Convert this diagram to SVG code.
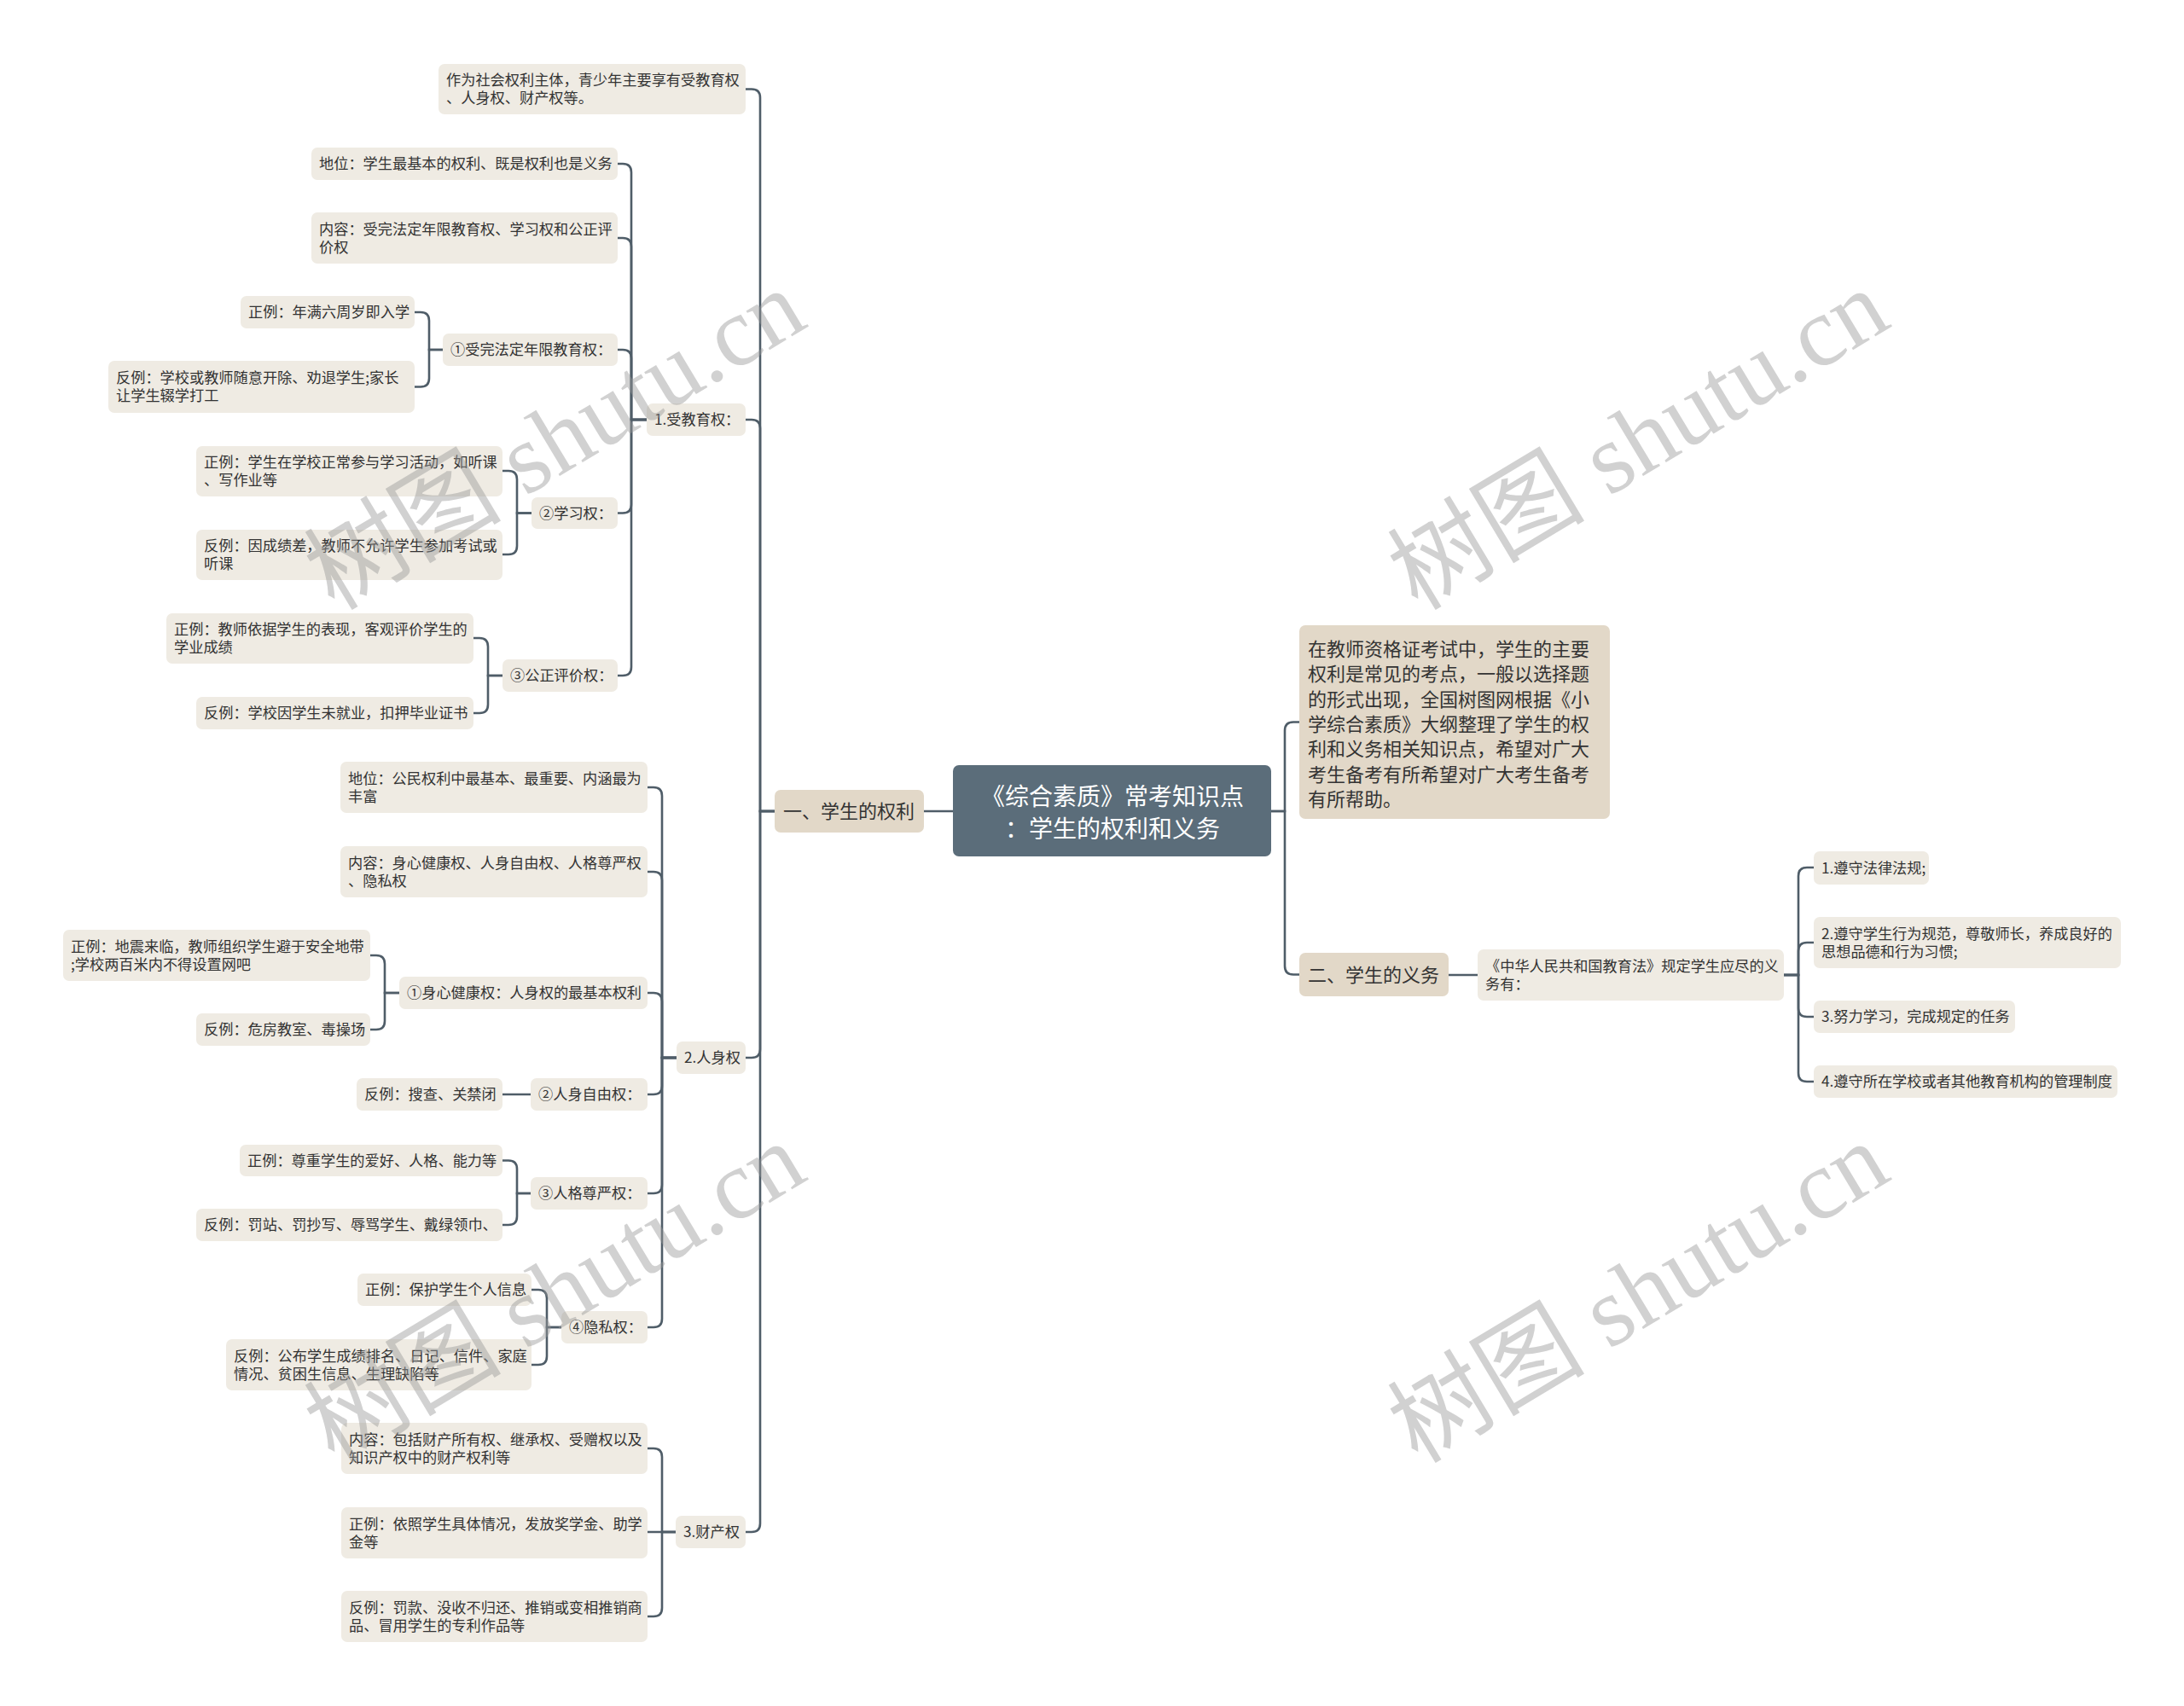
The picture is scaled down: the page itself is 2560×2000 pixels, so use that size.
<svg xmlns="http://www.w3.org/2000/svg" width="2560" height="2000" viewBox="0 0 2560 2000">
<style>
text{font-family:"Noto Sans CJK SC","Noto Sans",sans-serif;fill:#333;}
.n{fill:#efebe3;}
.l1{fill:#e2d8c8;}
.t{font-size:17.2px;}
.t2{font-size:22px;}
.tc{font-size:28px;fill:#fff;}
.c{fill:none;stroke:#4f5d68;stroke-width:2.6;}
.wm{font-family:"Liberation Serif","Noto Sans CJK SC",serif;font-size:116px;fill:#9a9a9a;opacity:0.45;}
</style>
<rect width="2560" height="2000" fill="#ffffff"/>
<g id="connectors">
<path class="c" d="M1117,951 H1083"/>
<path class="c" d="M908,951 H891 V114.5 Q891,104.5 881,104.5 H874"/>
<path class="c" d="M908,951 H891 V502 Q891,492 881,492 H874"/>
<path class="c" d="M908,951 H891 V1230 Q891,1240 881,1240 H874"/>
<path class="c" d="M908,951 H891 V1786 Q891,1796 881,1796 H874"/>
<path class="c" d="M758,492 H740 V202 Q740,192 730,192 H724"/>
<path class="c" d="M758,492 H740 V289 Q740,279 730,279 H724"/>
<path class="c" d="M758,492 H740 V420 Q740,410 730,410 H724"/>
<path class="c" d="M758,492 H740 V591.5 Q740,601.5 730,601.5 H724"/>
<path class="c" d="M758,492 H740 V782 Q740,792 730,792 H724"/>
<path class="c" d="M519,410 H503 V376 Q503,366 493,366 H486"/>
<path class="c" d="M519,410 H503 V443.5 Q503,453.5 493,453.5 H486"/>
<path class="c" d="M623,601.5 H606 V562 Q606,552 596,552 H589"/>
<path class="c" d="M623,601.5 H606 V640 Q606,650 596,650 H589"/>
<path class="c" d="M589,792 H572 V758 Q572,748 562,748 H555"/>
<path class="c" d="M589,792 H572 V826 Q572,836 562,836 H555"/>
<path class="c" d="M793,1240 H776 V933 Q776,923 766,923 H759"/>
<path class="c" d="M793,1240 H776 V1032 Q776,1022 766,1022 H759"/>
<path class="c" d="M793,1240 H776 V1174 Q776,1164 766,1164 H759"/>
<path class="c" d="M793,1240 H776 V1273 Q776,1283 766,1283 H759"/>
<path class="c" d="M793,1240 H776 V1389 Q776,1399 766,1399 H759"/>
<path class="c" d="M793,1240 H776 V1546 Q776,1556 766,1556 H759"/>
<path class="c" d="M468,1164 H451 V1130 Q451,1120 441,1120 H434"/>
<path class="c" d="M468,1164 H451 V1197 Q451,1207 441,1207 H434"/>
<path class="c" d="M622,1283 H589"/>
<path class="c" d="M622,1399 H606 V1370.5 Q606,1360.5 596,1360.5 H589"/>
<path class="c" d="M622,1399 H606 V1426 Q606,1436 596,1436 H589"/>
<path class="c" d="M658,1556 H641 V1522 Q641,1512 631,1512 H623"/>
<path class="c" d="M658,1556 H641 V1590 Q641,1600 631,1600 H623"/>
<path class="c" d="M792,1796 H776 V1708 Q776,1698 766,1698 H759"/>
<path class="c" d="M792,1796 H759"/>
<path class="c" d="M792,1796 H776 V1885 Q776,1895 766,1895 H759"/>
<path class="c" d="M1490,951 H1506 V856.5 Q1506,846.5 1516,846.5 H1523"/>
<path class="c" d="M1490,951 H1506 V1132.5 Q1506,1142.5 1516,1142.5 H1523"/>
<path class="c" d="M1698,1143 H1732"/>
<path class="c" d="M2091,1143 H2108 V1027 Q2108,1017 2118,1017 H2126"/>
<path class="c" d="M2091,1143 H2108 V1115 Q2108,1105 2118,1105 H2126"/>
<path class="c" d="M2091,1143 H2108 V1182 Q2108,1192 2118,1192 H2126"/>
<path class="c" d="M2091,1143 H2108 V1258 Q2108,1268 2118,1268 H2126"/>
</g>
<g id="root"><rect x="1117" y="897" width="373" height="107" rx="7" fill="#5b6d7a"/><text class="tc" text-anchor="middle"><tspan x="1304" y="944">《综合素质》常考知识点</tspan><tspan x="1304" y="982">：学生的权利和义务</tspan></text></g>
<g id="n-rights"><rect class="l1" x="908" y="926" width="175" height="50" rx="7"/><text class="t2" x="918" y="959">一、学生的权利</text></g>
<g id="n-a"><rect class="n" x="514" y="75" width="360" height="59" rx="7"/><text class="t"><tspan x="523" y="100">作为社会权利主体，青少年主要享有受教育权</tspan><tspan x="523" y="121">、人身权、财产权等。</tspan></text></g>
<g id="n-edu"><rect class="n" x="758" y="473" width="116" height="38" rx="7"/><text class="t" x="767" y="498">1.受教育权：</text></g>
<g id="n-edu1"><rect class="n" x="365" y="173" width="359" height="38" rx="7"/><text class="t" x="374" y="198">地位：学生最基本的权利、既是权利也是义务</text></g>
<g id="n-edu2"><rect class="n" x="365" y="249" width="359" height="60" rx="7"/><text class="t"><tspan x="374" y="274.5">内容：受完法定年限教育权、学习权和公正评</tspan><tspan x="374" y="295.5">价权</tspan></text></g>
<g id="n-edu3"><rect class="n" x="519" y="391" width="205" height="38" rx="7"/><text class="t" x="528" y="416">①受完法定年限教育权：</text></g>
<g id="n-edu3a"><rect class="n" x="282" y="347" width="204" height="38" rx="7"/><text class="t" x="291" y="372">正例：年满六周岁即入学</text></g>
<g id="n-edu3b"><rect class="n" x="127" y="423" width="359" height="61" rx="7"/><text class="t"><tspan x="136" y="449">反例：学校或教师随意开除、劝退学生;家长</tspan><tspan x="136" y="470">让学生辍学打工</tspan></text></g>
<g id="n-edu4"><rect class="n" x="623" y="583" width="101" height="37" rx="7"/><text class="t" x="632" y="607.5">②学习权：</text></g>
<g id="n-edu4a"><rect class="n" x="230" y="523" width="359" height="59" rx="7"/><text class="t"><tspan x="239" y="547.5">正例：学生在学校正常参与学习活动，如听课</tspan><tspan x="239" y="568.5">、写作业等</tspan></text></g>
<g id="n-edu4b"><rect class="n" x="230" y="621" width="359" height="59" rx="7"/><text class="t"><tspan x="239" y="645.5">反例：因成绩差，教师不允许学生参加考试或</tspan><tspan x="239" y="666.5">听课</tspan></text></g>
<g id="n-edu5"><rect class="n" x="589" y="773" width="135" height="38" rx="7"/><text class="t" x="598" y="798">③公正评价权：</text></g>
<g id="n-edu5a"><rect class="n" x="195" y="719" width="360" height="59" rx="7"/><text class="t"><tspan x="204" y="743.5">正例：教师依据学生的表现，客观评价学生的</tspan><tspan x="204" y="764.5">学业成绩</tspan></text></g>
<g id="n-edu5b"><rect class="n" x="230" y="817" width="325" height="38" rx="7"/><text class="t" x="239" y="842">反例：学校因学生未就业，扣押毕业证书</text></g>
<g id="n-person"><rect class="n" x="793" y="1221" width="81" height="38" rx="7"/><text class="t" x="802" y="1246">2.人身权</text></g>
<g id="n-p1"><rect class="n" x="399" y="893" width="360" height="60" rx="7"/><text class="t"><tspan x="408" y="918.5">地位：公民权利中最基本、最重要、内涵最为</tspan><tspan x="408" y="939.5">丰富</tspan></text></g>
<g id="n-p2"><rect class="n" x="399" y="992" width="360" height="60" rx="7"/><text class="t"><tspan x="408" y="1017.5">内容：身心健康权、人身自由权、人格尊严权</tspan><tspan x="408" y="1038.5">、隐私权</tspan></text></g>
<g id="n-p3"><rect class="n" x="468" y="1145" width="291" height="38" rx="7"/><text class="t" x="477" y="1170">①身心健康权：人身权的最基本权利</text></g>
<g id="n-p3a"><rect class="n" x="74" y="1090" width="360" height="60" rx="7"/><text class="t"><tspan x="83" y="1115.5">正例：地震来临，教师组织学生避于安全地带</tspan><tspan x="83" y="1136.5">;学校两百米内不得设置网吧</tspan></text></g>
<g id="n-p3b"><rect class="n" x="230" y="1188" width="204" height="38" rx="7"/><text class="t" x="239" y="1213">反例：危房教室、毒操场</text></g>
<g id="n-p4"><rect class="n" x="622" y="1264" width="137" height="38" rx="7"/><text class="t" x="631" y="1289">②人身自由权：</text></g>
<g id="n-p4a"><rect class="n" x="418" y="1264" width="171" height="38" rx="7"/><text class="t" x="427" y="1289">反例：搜查、关禁闭</text></g>
<g id="n-p5"><rect class="n" x="622" y="1380" width="137" height="38" rx="7"/><text class="t" x="631" y="1405">③人格尊严权：</text></g>
<g id="n-p5a"><rect class="n" x="281" y="1342" width="308" height="37" rx="7"/><text class="t" x="290" y="1366.5">正例：尊重学生的爱好、人格、能力等</text></g>
<g id="n-p5b"><rect class="n" x="230" y="1417" width="359" height="38" rx="7"/><text class="t" x="239" y="1442">反例：罚站、罚抄写、辱骂学生、戴绿领巾、</text></g>
<g id="n-p6"><rect class="n" x="658" y="1537" width="101" height="38" rx="7"/><text class="t" x="667" y="1562">④隐私权：</text></g>
<g id="n-p6a"><rect class="n" x="419" y="1493" width="204" height="38" rx="7"/><text class="t" x="428" y="1518">正例：保护学生个人信息</text></g>
<g id="n-p6b"><rect class="n" x="265" y="1570" width="358" height="60" rx="7"/><text class="t"><tspan x="274" y="1595.5">反例：公布学生成绩排名、日记、信件、家庭</tspan><tspan x="274" y="1616.5">情况、贫困生信息、生理缺陷等</tspan></text></g>
<g id="n-prop"><rect class="n" x="792" y="1777" width="82" height="38" rx="7"/><text class="t" x="801" y="1802">3.财产权</text></g>
<g id="n-prop1"><rect class="n" x="400" y="1668" width="359" height="60" rx="7"/><text class="t"><tspan x="409" y="1693.5">内容：包括财产所有权、继承权、受赠权以及</tspan><tspan x="409" y="1714.5">知识产权中的财产权利等</tspan></text></g>
<g id="n-prop2"><rect class="n" x="400" y="1767" width="359" height="60" rx="7"/><text class="t"><tspan x="409" y="1792.5">正例：依照学生具体情况，发放奖学金、助学</tspan><tspan x="409" y="1813.5">金等</tspan></text></g>
<g id="n-prop3"><rect class="n" x="400" y="1865" width="359" height="60" rx="7"/><text class="t"><tspan x="409" y="1890.5">反例：罚款、没收不归还、推销或变相推销商</tspan><tspan x="409" y="1911.5">品、冒用学生的专利作品等</tspan></text></g>
<g id="n-intro"><rect class="l1" x="1523" y="733" width="364" height="227" rx="7"/><text class="t2"><tspan x="1533" y="769">在教师资格证考试中，学生的主要</tspan><tspan x="1533" y="798.3">权利是常见的考点，一般以选择题</tspan><tspan x="1533" y="827.6">的形式出现，全国树图网根据《小</tspan><tspan x="1533" y="856.9">学综合素质》大纲整理了学生的权</tspan><tspan x="1533" y="886.2">利和义务相关知识点，希望对广大</tspan><tspan x="1533" y="915.5">考生备考有所希望对广大考生备考</tspan><tspan x="1533" y="944.8">有所帮助。</tspan></text></g>
<g id="n-duties"><rect class="l1" x="1523" y="1117" width="175" height="51" rx="7"/><text class="t2" x="1533" y="1150.5">二、学生的义务</text></g>
<g id="n-law"><rect class="n" x="1732" y="1113" width="359" height="60" rx="7"/><text class="t"><tspan x="1741" y="1138.5">《中华人民共和国教育法》规定学生应尽的义</tspan><tspan x="1741" y="1159.5">务有：</tspan></text></g>
<g id="n-d1"><rect class="n" x="2126" y="998" width="135" height="39" rx="7"/><text class="t" x="2135" y="1023.5">1.遵守法律法规;</text></g>
<g id="n-d2"><rect class="n" x="2126" y="1075" width="360" height="60" rx="7"/><text class="t"><tspan x="2135" y="1100.5">2.遵守学生行为规范，尊敬师长，养成良好的</tspan><tspan x="2135" y="1121.5">思想品德和行为习惯;</tspan></text></g>
<g id="n-d3"><rect class="n" x="2126" y="1173" width="236" height="38" rx="7"/><text class="t" x="2135" y="1198">3.努力学习，完成规定的任务</text></g>
<g id="n-d4"><rect class="n" x="2126" y="1249" width="356" height="38" rx="7"/><text class="t" x="2135" y="1274">4.遵守所在学校或者其他教育机构的管理制度</text></g>
<g id="watermarks">
<text class="wm" text-anchor="middle" transform="translate(650,515) rotate(-31)" x="0" y="40">树图 shutu.cn</text>
<text class="wm" text-anchor="middle" transform="translate(1920,515) rotate(-31)" x="0" y="40">树图 shutu.cn</text>
<text class="wm" text-anchor="middle" transform="translate(650,1515) rotate(-31)" x="0" y="40">树图 shutu.cn</text>
<text class="wm" text-anchor="middle" transform="translate(1920,1515) rotate(-31)" x="0" y="40">树图 shutu.cn</text>
</g>
</svg>
